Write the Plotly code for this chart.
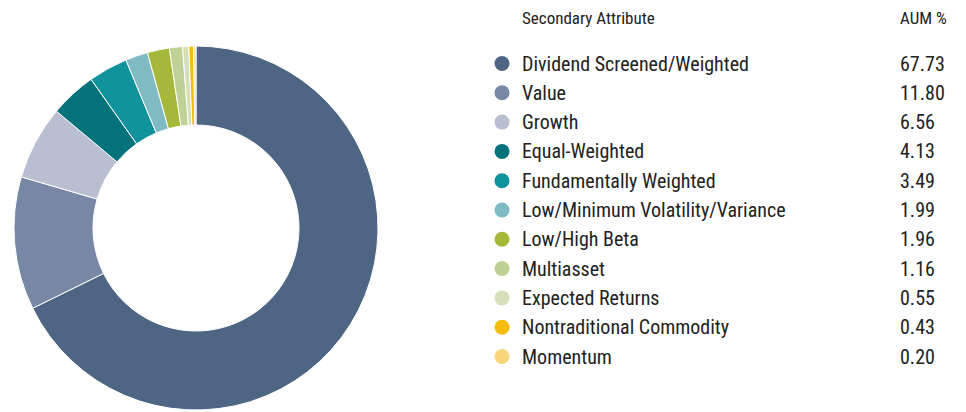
import plotly.graph_objects as go

categories = [
    "Dividend Screened/Weighted", "Value", "Growth", "Equal-Weighted",
    "Fundamentally Weighted", "Low/Minimum Volatility/Variance", "Low/High Beta",
    "Multiasset", "Expected Returns", "Nontraditional Commodity", "Momentum",
]
aum_pct = [67.73, 11.80, 6.56, 4.13, 3.49, 1.99, 1.96, 1.16, 0.55, 0.43, 0.20]
colors = ["#4f6584", "#7787a5", "#b9bfd0", "#03727a", "#11939d", "#80bbc3",
          "#a5b83a", "#bfd295", "#d5e0b8", "#f3bd0e", "#f7d57a"]
header_labels = ["Secondary Attribute", "AUM %"]

W, H = 966, 412
FONT = "Roboto Condensed, Roboto, sans-serif"

fig = go.Figure()
fig.add_trace(go.Pie(
    labels=categories, values=aum_pct, hole=0.566, sort=False,
    direction="clockwise", rotation=0,
    marker=dict(colors=colors, line=dict(color="white", width=1)),
    textinfo="none", hoverinfo="label+value", showlegend=False,
    domain=dict(x=[14 / W, 378 / W], y=[2 / H, 366 / H]),
))

row_y0, row_dy = 63.5, 29.3
rows_y = [row_y0 + i * row_dy for i in range(len(categories))]

fig.add_trace(go.Scatter(
    x=[502] * len(categories), y=rows_y, mode="markers",
    marker=dict(size=15, color=colors, line=dict(width=0)),
    hoverinfo="skip", showlegend=False, xaxis="x", yaxis="y",
))

annotations = []
annotations.append(dict(x=520, y=18, text=header_labels[0], xanchor="left", yanchor="middle",
                        showarrow=False, font=dict(size=17, color="#222", family=FONT)))
annotations.append(dict(x=898, y=18, text=header_labels[1], xanchor="left", yanchor="middle",
                        showarrow=False, font=dict(size=17, color="#222", family=FONT)))
for cat, val, y in zip(categories, aum_pct, rows_y):
    annotations.append(dict(x=520, y=y, text=cat, xanchor="left", yanchor="middle",
                            showarrow=False, font=dict(size=20, color="#222", family=FONT)))
    annotations.append(dict(x=898, y=y, text=f"{val:.2f}", xanchor="left", yanchor="middle",
                            showarrow=False, font=dict(size=20, color="#222", family=FONT)))
for a in annotations:
    a["xref"] = "x"
    a["yref"] = "y"

fig.update_layout(
    width=W, height=H, margin=dict(l=0, r=0, t=0, b=0),
    paper_bgcolor="white", plot_bgcolor="rgba(0,0,0,0)",
    xaxis=dict(range=[0, W], visible=False, fixedrange=True, domain=[0, 1]),
    yaxis=dict(range=[H, 0], visible=False, fixedrange=True, domain=[0, 1]),
    annotations=annotations, font=dict(family=FONT),
)

fig.write_html(
    "out.html",
    config={"displayModeBar": False},
    post_script="document.body.style.margin='0';document.body.style.overflow='hidden';",
)
